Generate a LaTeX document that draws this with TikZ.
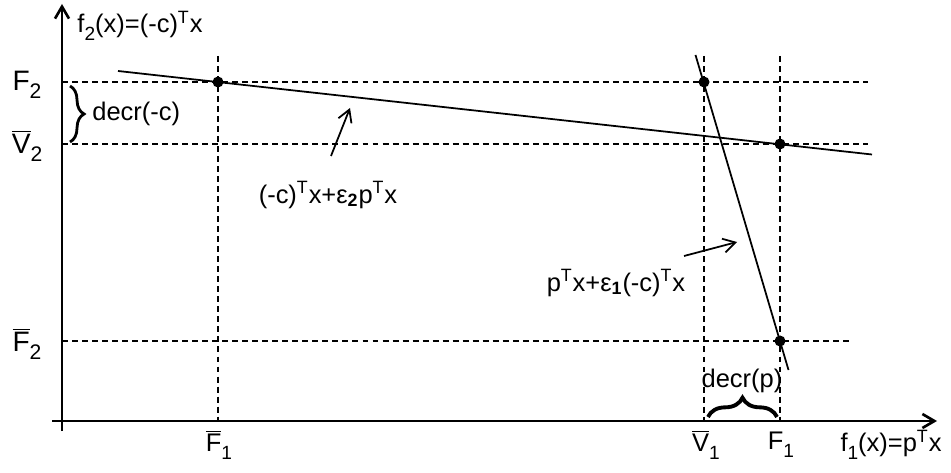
\documentclass[tikz,border=0pt]{standalone}
\usepackage{fontspec}
\setmainfont{Liberation Sans}
\usetikzlibrary{arrows.meta,decorations.pathreplacing,positioning}
\newcommand{\lbar}[1]{$\overline{\mbox{#1}}$}
\newcommand{\sub}[1]{\raisebox{-0.3em}{\scalebox{0.75}{#1}}}
\newcommand{\supT}{\textsuperscript{T}}

\begin{document}
\begin{tikzpicture}[x=0.2mm,y=-0.2mm,>={Straight Barb[length=2.4mm,width=2.8mm]},
   lbl/.style={font=\fontsize{16}{18}\selectfont,inner sep=0pt},
   blbl/.style={font=\fontsize{14.5}{16}\selectfont,inner sep=0pt},
   txt/.style={font=\fontsize{14.5}{16}\selectfont,inner sep=0pt},
   guide/.style={dash pattern=on 3.4pt off 2.3pt,line width=1pt},
   crit/.style={line width=1pt},
   axis/.style={line width=1.5pt},
   pt/.style={circle,fill=black,inner sep=0pt,minimum size=2.2mm}]
  \useasboundingbox (0,0) rectangle (951,473);
  % axes
  \coordinate (o) at (62,421);
  \coordinate (xend) at (937,421);
  \coordinate (yend) at (62,4);
  \draw[axis,->] (52,421) -- (xend);
  \draw[axis,->] (62,431) -- (yend);
  % guide lines
  \draw[guide] (62,82) -- (868,82);
  \draw[guide] (62,144) -- (868,144);
  \draw[guide] (62,341) -- (850,341);
  \draw[guide] (218,56) -- (218,421);
  \draw[guide] (704,56) -- (704,421);
  \draw[guide] (780,56) -- (780,421);
  % criterion lines
  \node[pt] (a) at (218,82) {};
  \node[pt] (b) at (704,82) {};
  \node[pt] (c) at (780,144) {};
  \node[pt] (d) at (780,341) {};
  \draw[crit] (118,71) -- (872,154.5);
  \draw[crit] (695.5,55) -- (788.5,370);
  % labels on the axes
  \node[lbl] (F2) at (27,85) {F\sub{2}};
  \node[lbl] (V2) at (27,146) {\lbar{V}\sub{2}};
  \node[lbl] (F2b) at (27,344) {\lbar{F}\sub{2}};
  \node[blbl] (F1b) at (219,445) {\lbar{F}\sub{1}};
  \node[blbl] (V1b) at (706,445) {\lbar{V}\sub{1}};
  \node[blbl] (F1) at (781,445) {F\sub{1}};
  \node[txt] (f1) at (891,445) {f\sub{1}(x)=p\supT x};
  \node[txt] (f2) at (140,26) {f\sub{2}(x)=(-c)\supT x};
  % decreases
  \draw[line width=1.6pt,decorate,decoration={brace,amplitude=8pt}] (70,86) -- (70,142);
  \node[txt,anchor=west] (dc) at (92,114) {decr(-c)};
  \draw[line width=2.2pt,decorate,decoration={brace,amplitude=11pt}] (708,417) -- (777,417);
  \node[txt] (dp) at (742,381) {decr(p)};
  % line names
  \node[txt] (l2) at (328,195) {(-c)\supT x+ε\textsubscript{\textbf{2}}p\supT x};
  \node[txt] (l1) at (616,283) {p\supT x+ε\textsubscript{\textbf{1}}(-c)\supT x};
  \coordinate (l2tip) at (350,108);
  \coordinate (l1tip) at (737,242);
  \draw[crit,->] (331,156) -- (l2tip);
  \draw[crit,->] (684,256) -- (l1tip);
\end{tikzpicture}
\end{document}
